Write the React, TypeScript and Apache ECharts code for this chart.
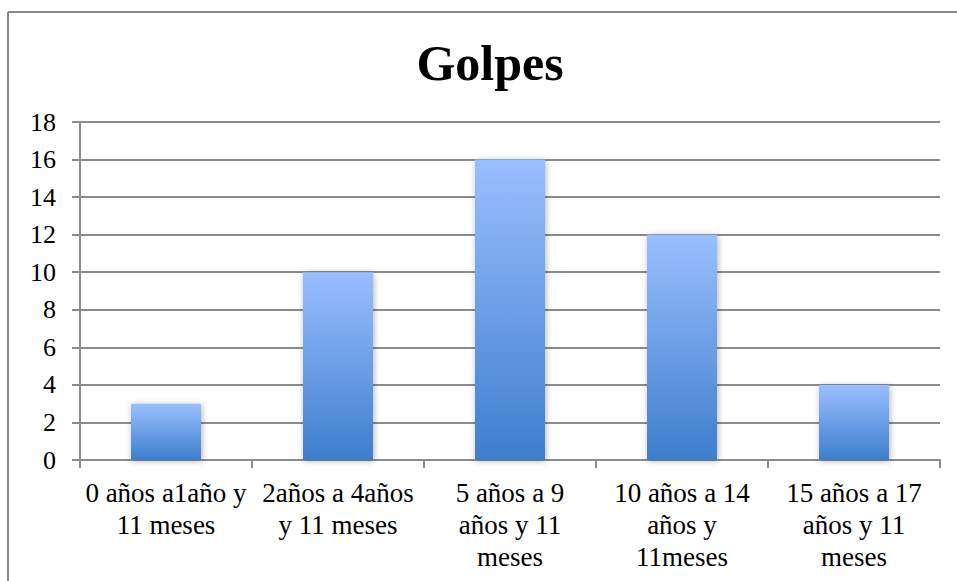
import React, { useEffect, useRef } from "react";
import * as echarts from "echarts";

const categories = [
  "0 años a1año y\n11 meses",
  "2años a 4años\ny 11 meses",
  "5 años a 9\naños y 11\nmeses",
  "10 años a 14\naños y\n11meses",
  "15 años a 17\naños y 11\nmeses",
];
const values = [3, 10, 16, 12, 4];
const yTicks = { min: 0, max: 18, interval: 2 };
const title = "Golpes";

export default function App() {
  const ref = useRef<HTMLDivElement>(null);
  useEffect(() => {
    if (!ref.current) return;
    const chart = echarts.init(ref.current, null, { renderer: "svg" });
    const font = "'Liberation Serif', 'DejaVu Serif', serif";
    chart.setOption({
      animation: false,
      backgroundColor: "#ffffff",
      title: {
        text: title,
        left: 485,
        top: 33,
        textAlign: "center",
        textStyle: {
          fontFamily: font,
          fontWeight: "bold",
          fontSize: 50,
          color: "#000",
        },
      },
      graphic: [
        {
          type: "line",
          shape: { x1: 8, y1: 12, x2: 957, y2: 12 },
          style: { stroke: "#888888", lineWidth: 2 },
        },
        {
          type: "line",
          shape: { x1: 8, y1: 12, x2: 8, y2: 581 },
          style: { stroke: "#888888", lineWidth: 2 },
        },
      ],
      grid: { left: 80, right: 17, top: 122, bottom: 121, containLabel: false },
      xAxis: {
        type: "category",
        data: categories,
        axisLine: { show: true, lineStyle: { color: "#8c8c8c", width: 2 } },
        axisTick: { show: true, length: 8, lineStyle: { color: "#8c8c8c", width: 2 } },
        axisLabel: {
          interval: 0,
          margin: 17,
          fontFamily: font,
          fontSize: 27,
          lineHeight: 32,
          color: "#000",
          align: "center",
        },
        splitLine: { show: false },
      },
      yAxis: {
        type: "value",
        min: yTicks.min,
        max: yTicks.max,
        interval: yTicks.interval,
        axisLine: { show: true, lineStyle: { color: "#8c8c8c", width: 2 } },
        axisTick: { show: true, length: 8, lineStyle: { color: "#8c8c8c", width: 2 } },
        axisLabel: {
          margin: 24,
          fontFamily: font,
          fontSize: 26,
          color: "#000",
        },
        splitLine: { show: true, lineStyle: { color: "#8c8c8c", width: 2 } },
      },
      series: [
        {
          type: "bar",
          data: values,
          barWidth: 70,
          itemStyle: {
            color: new echarts.graphic.LinearGradient(0, 0, 0, 1, [
              { offset: 0, color: "#99bfff" },
              { offset: 1, color: "#3e7ecd" },
            ]),
            shadowBlur: 6,
            shadowColor: "rgba(0,0,0,0.3)",
            shadowOffsetX: 1,
            shadowOffsetY: 1,
          },
        },
      ],
    });
    return () => chart.dispose();
  }, []);
  return (
    <div
      ref={ref}
      style={{ position: "absolute", left: 0, top: 0, width: 957, height: 581 }}
    />
  );
}
